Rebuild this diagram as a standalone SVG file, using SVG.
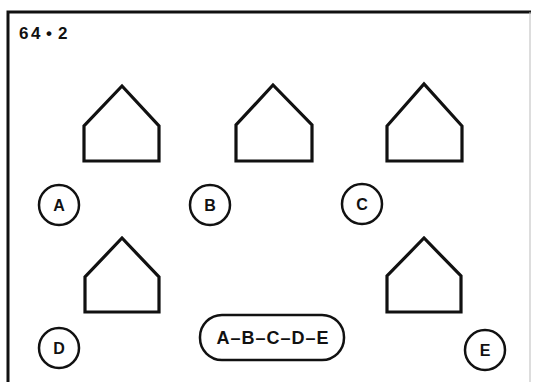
<svg xmlns="http://www.w3.org/2000/svg" width="533" height="382" viewBox="0 0 533 382">
<style>
.house{fill:none;stroke:#111;stroke-width:3.2;stroke-linejoin:miter}
.ring{fill:none;stroke:#111;stroke-width:2.5}
.lbl{font-family:"Liberation Sans",Arial,sans-serif;font-weight:bold;font-size:16px;fill:#111;text-anchor:middle}
</style>
<rect width="533" height="382" fill="#fff"/>
<g id="frame">
<path d="M8,382 V12 H531" fill="none" stroke="#111" stroke-width="3"/>
<line x1="530" y1="12" x2="530" y2="382" stroke="#bbb" stroke-width="1"/>
</g>
<g id="title"><text x="19" y="39" font-family="Liberation Sans,Arial,sans-serif" font-weight="bold" font-size="17" fill="#111">6<tspan x="31">4</tspan><tspan x="46">•</tspan><tspan x="58">2</tspan></text></g>
<g id="houseA"><path class="house" d="M84,161 V126 L122,86 L159,126 V161 Z"/></g>
<g id="houseB"><path class="house" d="M236,161 V125 L273,85 L312,125 V161 Z"/></g>
<g id="houseC"><path class="house" d="M387,161 V126 L424,84 L462,126 V161 Z"/></g>
<g id="houseD"><path class="house" d="M85,312 V277 L122,238 L159,277 V312 Z"/></g>
<g id="houseE"><path class="house" d="M387,312 V276 L424,238 L461,276 V312 Z"/></g>
<g id="labelA"><circle class="ring" cx="59" cy="205" r="20"/><text class="lbl" x="59" y="211">A</text></g>
<g id="labelB"><circle class="ring" cx="210" cy="205" r="20"/><text class="lbl" x="210" y="211">B</text></g>
<g id="labelC"><circle class="ring" cx="362" cy="204" r="20"/><text class="lbl" x="362" y="210">C</text></g>
<g id="labelD"><circle class="ring" cx="59" cy="348" r="20"/><text class="lbl" x="59" y="354">D</text></g>
<g id="labelE"><circle class="ring" cx="485" cy="350" r="20"/><text class="lbl" x="485" y="356">E</text></g>
<g id="answer"><rect x="200" y="315" width="144" height="45" rx="22" ry="22" fill="none" stroke="#111" stroke-width="2.5"/><text x="273" y="344" font-family="Liberation Sans,Arial,sans-serif" font-weight="bold" font-size="18" fill="#111" text-anchor="middle" letter-spacing="1">A–B–C–D–E</text></g>
</svg>
